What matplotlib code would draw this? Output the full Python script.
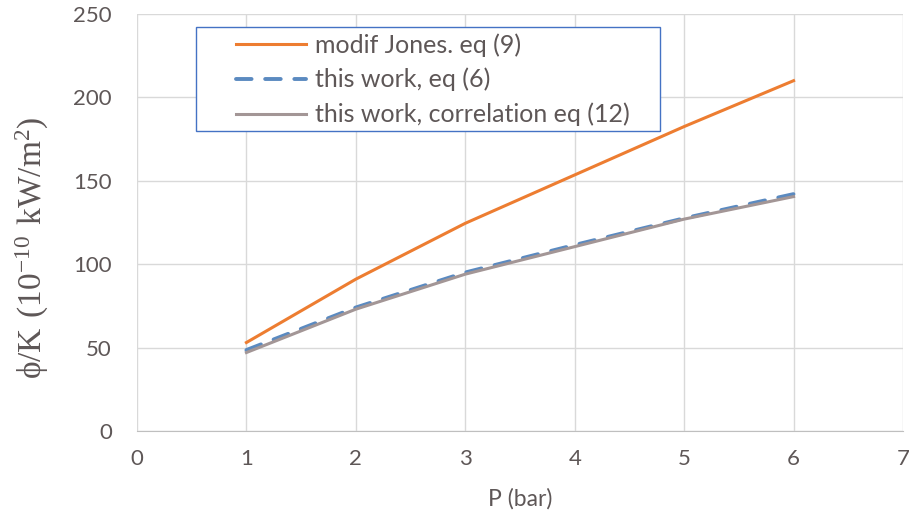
import matplotlib
matplotlib.use("Agg")
import matplotlib.pyplot as plt
from matplotlib.patches import Rectangle

pressure = [1, 2, 3, 4, 5, 6]
jones_eq9 = [53, 91, 124.5, 153.5, 182.5, 210]
this_work_eq6 = [48.5, 74, 95, 111.5, 127.5, 142]
correlation_eq12 = [47, 73, 94, 110.5, 127, 140.5]

x_ticks = [0, 1, 2, 3, 4, 5, 6, 7]
y_ticks = [0, 50, 100, 150, 200, 250]

txt = "#5E5757"
fig = plt.figure(figsize=(9.09, 5.32), dpi=100)
ax = fig.add_axes([0.1507, 0.19, 0.8427, 0.7837])

ax.plot(pressure, jones_eq9, color="#ED7D31", lw=2.2, label="modif Jones. eq (9)", zorder=3)
ax.plot(pressure, this_work_eq6, color="#5B8AC0", lw=2.8, ls=(0, (4, 3.5)),
        dash_capstyle="round", label="this work, eq (6)", zorder=3)
ax.plot(pressure, correlation_eq12, color="#A39696", lw=2.2, label="this work, correlation eq (12)", zorder=4)

ax.set_xlim(0, 7)
ax.set_ylim(0, 250)
ax.set_xticks(x_ticks)
ax.set_yticks(y_ticks)
ax.grid(True, color="#D9D9D9", lw=1)
ax.set_axisbelow(True)
for s in ["top", "right", "left"]:
    ax.spines[s].set_visible(False)
ax.spines["bottom"].set_color("#BFBFBF")
ax.tick_params(axis="y", length=0, labelsize=16, labelcolor=txt, pad=18)
ax.tick_params(axis="x", length=0, labelsize=16, labelcolor=txt, pad=13)
for lab in ax.get_xticklabels() + ax.get_yticklabels():
    lab.set_family("Lato")

ax.set_xlabel("P (bar)", fontsize=16.5, color=txt, family="Lato", labelpad=14)
ax.set_ylabel(r"$\mathregular{\phi/K\ (10^{-10}\ kW/m^{2})}$", fontsize=24, color=txt,
              family="Liberation Serif")
ax.yaxis.set_label_coords(-0.112, 0.44)

# legend frame
ax.add_patch(Rectangle((196 / 909, 1 - 131 / 532), 464 / 909, 104 / 532,
                       transform=fig.transFigure, fill=True, facecolor="white",
                       edgecolor="#4472C4", lw=1, zorder=5, clip_on=False))
leg = ax.legend(loc="upper left", bbox_to_anchor=(236 / 909, 1 - 33 / 532),
                bbox_transform=fig.transFigure, frameon=False, borderaxespad=0,
                borderpad=0, handlelength=2.8, labelspacing=0.45, handletextpad=0.35,
                prop={"family": "Lato", "size": 18})
leg.set_zorder(6)
for t in leg.get_texts():
    t.set_color(txt)

fig.savefig("out.png", dpi=100)
